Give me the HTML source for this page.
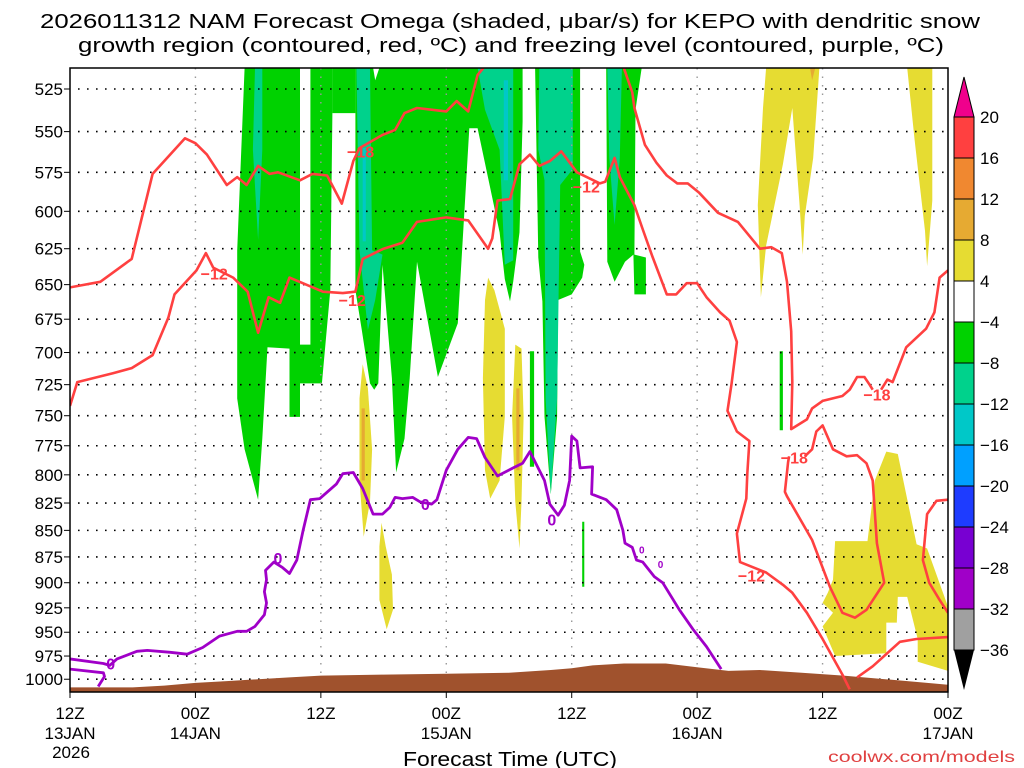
<!DOCTYPE html>
<html><head><meta charset="utf-8"><title>NAM Forecast Omega KEPO</title>
<style>html,body{margin:0;padding:0;background:#fff;}svg{display:block;font-family:"Liberation Sans",sans-serif;}</style>
</head><body>
<svg id="chart" width="1024" height="768" viewBox="0 0 1024 768" xmlns="http://www.w3.org/2000/svg">
<defs><clipPath id="plotclip"><rect x="70" y="68" width="878" height="624"/></clipPath></defs>
<text x="510" y="28" text-anchor="middle" font-size="20" textLength="940" lengthAdjust="spacingAndGlyphs">2026011312 NAM Forecast Omega (shaded, μbar/s) for KEPO with dendritic snow</text>
<text x="511" y="52" text-anchor="middle" font-size="20" textLength="866" lengthAdjust="spacingAndGlyphs">growth region (contoured, red, ºC) and freezing level (contoured, purple, ºC)</text>
<g id="shade" clip-path="url(#plotclip)"></g>
<g id="grid"></g>
<g id="terrain" clip-path="url(#plotclip)"></g>
<g id="contours" clip-path="url(#plotclip)"></g>
<rect x="70" y="68" width="878" height="624" fill="none" stroke="#000" stroke-width="1.5"/>
<g id="yaxis"></g>
<g id="xaxis"></g>
<text x="510" y="766" text-anchor="middle" font-size="20" textLength="214" lengthAdjust="spacingAndGlyphs">Forecast Time (UTC)</text>
<text x="1015" y="762" text-anchor="end" font-size="16" fill="#e04040" textLength="187" lengthAdjust="spacingAndGlyphs">coolwx.com/models</text>
<g id="colorbar"></g>
</svg>
<script>
const NS='http://www.w3.org/2000/svg';
// ---- data ----
const pressureTicks=[525,550,575,600,625,650,675,700,725,750,775,800,825,850,875,900,925,950,975,1000];
const timeTickHours=[0,12,24,36,48,60,72,84];
const timeTickLine1=['12Z','00Z','12Z','00Z','12Z','00Z','12Z','00Z'];
const timeTickLine2=['13JAN','14JAN','','15JAN','','16JAN','','17JAN'];
const colorbarLevels=[20,16,12,8,4,-4,-8,-12,-16,-20,-24,-28,-32,-36];
const colorbarColors=['#ff4040','#f08830','#e6aa32','#e6dc32','#ffffff','#00d200','#00d28c','#00c8c8','#00a0ff','#1e3cff','#7800d2','#a000c8','#a0a0a0'];
const terrainHours=[0,6,9,12,15,18,21,24,30,36,42,46,48,50,53,57,60,63,66,70,74,78,82,84];
const terrainPres=[1009,1009,1007,1004,1002,1000,998,996,995,994,993,990,988,985,983,983,987,991,990,993,996,1000,1004,1006];
// shading polygons [hour, hPa]
const yellowAreas=[
 [[40.0,645],[40.6,654],[41.6,682],[41.6,751],[41.1,805],[40.2,821],[39.7,796],[39.5,720],[39.7,661]],
 [[28.0,709],[28.5,728],[28.9,778],[28.7,824],[28.1,856],[27.7,805],[27.7,736]],
 [[29.8,843],[30.2,865],[30.8,892],[30.9,927],[30.3,947],[29.6,917],[29.6,865]],
 [[42.6,694],[43.2,697],[43.4,751],[43.2,824],[43.0,867],[42.6,824],[42.3,751]],
 [[66.6,513],[71.7,513],[71.1,566],[70.3,603],[70.1,629],[69.8,596],[69.1,536],[68.2,570],[66.6,623],[66.1,659],[65.8,596],[66.3,536]],
 [[80.1,513],[82.5,513],[82.5,593],[82.0,637],[81.8,613],[80.8,555]],
 [[78.1,780],[79.2,782],[81.0,863],[82.0,867],[84.0,924],[84.0,991],[81.1,981],[81.1,957],[80.1,914],[79.2,914],[79.1,940],[78.1,940],[78.1,972],[73.2,975],[72.0,944],[73.0,930],[72.0,920],[72.5,910],[73.0,897],[73.2,860],[76.3,860],[77.0,805]]
];
const goldAreas=[
 [[27.9,744],[28.2,744],[28.2,805],[27.9,805]],
 [[42.7,728],[43.0,728],[43.0,796],[42.7,796]],
 [[70.8,513],[71.3,513],[71.0,520]]
];
const greenAreas=[
 [[16.7,513],[22.0,513],[22.0,751],[21.0,751],[21.0,697],[18.9,696],[18.4,769],[18.0,822],[16.7,778],[16.0,736],[16.0,626]],
 [[23.0,513],[25.1,513],[25.1,539],[24.9,654],[24.1,724],[22.0,724],[22.0,694],[23.0,694]],
 [[25.1,513],[27.3,513],[27.3,539],[25.1,539]],
 [[27.3,513],[29.0,513],[29.2,520],[29.6,513],[43.3,513],[43.3,544],[43.0,614],[42.4,648],[42.1,662],[41.6,646],[41.1,614],[39.0,548],[38.2,548],[37.1,678],[35.2,719],[33.2,634],[32.5,720],[32.0,769],[31.2,798],[30.8,720],[29.9,636],[29.5,724],[29.1,729],[28.7,724],[27.9,682],[27.3,654]],
 [[44.5,513],[48.8,513],[48.8,627],[49.2,636],[49.0,645],[48.0,657],[46.7,661],[46.6,751],[46.0,817],[45.4,751],[45.2,662],[44.8,631]],
 [[51.3,513],[54.7,513],[54.1,537],[54.0,629],[55.1,631],[55.1,657],[54.0,657],[53.9,629],[53.1,634],[52.1,648],[51.4,634]],
 [[44.0,699],[44.4,699],[44.4,793],[44.0,793]],
 [[49.0,842],[49.2,842],[49.2,904],[49.0,904]],
 [[67.9,699],[68.2,699],[68.2,762],[67.9,762]]
];
const tealAreas=[
 [[17.7,513],[18.4,513],[18.4,561],[18.0,619],[17.5,561]],
 [[27.4,513],[28.7,513],[28.9,626],[29.9,629],[29.2,661],[28.5,683],[27.7,626]],
 [[39.0,513],[42.4,513],[42.4,633],[41.6,636],[41.1,561],[39.7,537]],
 [[44.9,513],[48.1,513],[48.1,573],[46.9,583],[46.6,736],[46.0,817],[45.5,736],[45.4,580],[44.8,561]],
 [[51.4,513],[52.8,513],[52.6,566],[52.1,609],[51.6,566]]
];
const cyanAreas=[
 [[28.0,560],[28.3,560],[28.3,620],[28.0,620]],
 [[41.5,520],[41.9,520],[41.9,580],[41.5,580]]
];
// red contours (DGZ -12/-18)
const redLineA=[[0,742],[0.7,723],[4.1,716],[5.9,712],[7.9,702],[9.4,674],[10.0,657],[12.1,640],[13.0,628],[13.7,638],[15.6,645],[17.0,655],[18.0,685],[19.0,659],[20.1,663],[21.0,645],[24.2,655],[26.1,656],[27.3,655],[28.0,632],[30.0,625],[31.8,621],[33.2,607],[36.0,604],[38.1,606],[40.0,625],[40.4,618],[40.9,593],[42.1,592],[43.0,570],[44.0,564],[44.9,571],[45.9,568],[47.0,562],[48.5,575],[50.7,582],[51.2,581],[52.1,566],[52.6,578],[54.0,596],[54.8,612],[55.7,630],[57.1,657],[58.0,657],[59.0,649],[60.0,649],[60.9,659],[62.2,670],[63.1,676],[63.8,692],[63.3,724],[62.9,746],[63.8,763],[65.0,771],[64.8,799],[64.7,821],[63.8,853],[64.1,880],[66.6,890],[68.2,902],[69.1,910],[70.5,930],[72.0,957],[73.9,995],[74.6,1011]];
const redLineB1=[[0,652],[2.9,648],[5.9,632],[7.9,576],[11.0,554],[12.0,557],[13.1,564],[15.0,583],[16.0,578],[16.9,583],[18.0,571],[19.1,576],[19.9,575],[22.0,580],[23.2,576],[24.6,577],[26.0,595],[27.1,568],[27.7,560],[29.9,552],[31.1,549],[32.0,539],[33.2,536],[36.0,538],[37.0,532],[38.1,538],[39.0,517],[40.0,510],[41.1,511]];
const redLineB2=[[52.8,510],[53.8,527],[54.0,536],[55.0,558],[56.1,569],[57.1,577],[58.1,582],[59.1,582],[60.2,588],[62.0,601],[63.9,607],[66.0,625],[67.1,624],[68.1,628],[68.6,648],[69.0,684],[69.1,723],[69.0,761],[70.5,753],[71.0,744],[72.0,738],[73.9,734],[74.6,729],[75.3,719],[76.0,719],[76.5,725],[76.8,729]];
const redLineB3=[[77.6,729],[78.2,721],[78.7,723],[80.0,696],[81.9,682],[82.7,670],[83.2,645],[84.0,640]];
const redLoopC=[[68.8,784],[68.7,789],[68.4,815],[68.6,819],[71.0,859],[72.7,904],[73.9,930],[75.1,935],[76.2,927],[77.9,900],[77.2,862],[76.8,805],[76.2,790],[75.3,783],[74.3,784],[73.0,778],[72.0,758],[71.4,763],[71.0,778],[70.3,784]];
const redLineD=[[75.3,998],[76.8,986],[79.4,960],[81.0,957],[84.0,955]];
const redLineE=[[84.0,822],[82.9,823],[82.0,835],[81.6,878],[82.2,900],[83.2,917],[84.0,930]];
const redLabelHours=[13.8,27.0,49.4,65.2,27.8,69.3,77.2];
const redLabelPres=[642,661,584,893,562,785,733];
const redLabelText=['-12','-12','-12','-12','-18','-18','-18'];
// purple freezing level
const purpleLine1=[[0,978],[3.2,983],[3.8,985],[4.5,978],[6.4,970],[7.4,969],[9.6,971],[11.2,973],[12.7,966],[14.3,954],[16.0,949],[16.9,949],[17.7,944],[18.6,932],[18.8,920],[18.6,909],[18.8,897],[18.7,888],[19.5,880],[20.3,885],[21.0,891],[21.7,878],[22.3,850],[23.0,822],[23.9,821],[25.5,808],[26.1,799],[27.1,798],[28.0,812],[29.0,835],[29.9,835],[30.6,829],[31.1,820],[31.8,821],[32.8,820],[33.5,824],[34.6,826],[35.1,822],[36.0,796],[37.1,778],[38.1,768],[38.9,769],[39.7,785],[40.9,801],[42.4,794],[43.3,790],[44.0,780],[44.9,796],[45.4,805],[45.9,826],[46.7,836],[47.3,827],[47.8,805],[48.0,767],[48.5,771],[48.8,794],[50.0,793],[49.9,817],[51.3,822],[52.3,831],[52.9,850],[53.1,862],[53.8,866],[54.2,878],[54.8,880],[55.9,894],[56.7,900],[58.3,927],[59.6,947],[60.9,965],[62.3,989]];
const purpleLine2=[[0,989],[3.2,993],[3.3,997],[2.7,1008]];
const purpleLabelHours=[3.9,19.9,34.0,46.1,54.7,56.5];
const purpleLabelPres=[983,876,826,840,866,880];
const purpleLabelText=['0','0','0','0','0','0'];
// ---- scales ----
function xOf(h){return 70+h*(878/84);}
function yOf(p){return 89+916*Math.log(p/525);}
function pts(arr){return arr.map(d=>xOf(d[0]).toFixed(1)+','+yOf(d[1]).toFixed(1)).join(' ');}
function mk(tag,attrs,parent){const e=document.createElementNS(NS,tag);for(const k in attrs)e.setAttribute(k,attrs[k]);parent.appendChild(e);return e;}
const shade=document.getElementById('shade');
function drawAreas(list,color,name){list.forEach(a=>{const e=mk('polygon',{points:pts(a),fill:color},shade);

});}
drawAreas(yellowAreas,'#e6dc32','omega-4-to-8-area');
drawAreas(goldAreas,'#e6aa32','omega-8-to-12-area');
drawAreas(greenAreas,'#00d200','omega-minus4-to-minus8-area');
drawAreas(tealAreas,'#00d28c','omega-minus8-to-minus12-area');
drawAreas(cyanAreas,'#00c8c8','omega-minus12-to-minus16-area');
// grid
const grid=document.getElementById('grid');
pressureTicks.forEach(p=>{const e=mk('line',{x1:78,x2:948,y1:yOf(p),y2:yOf(p),stroke:'#000','stroke-width':1.6,'stroke-dasharray':'1.6,7.4'},grid);

});
timeTickHours.forEach(h=>{if(h===0||h===84)return;const e=mk('line',{x1:xOf(h),x2:xOf(h),y1:68,y2:692,stroke:'#999','stroke-width':1.4,'stroke-dasharray':'1.5,7'},grid);

});
// terrain
const terr=document.getElementById('terrain');
const tp=terrainHours.map((h,i)=>[h,terrainPres[i]]);
const tpoly=mk('polygon',{points:xOf(0)+',700 '+pts(tp)+' '+xOf(84)+',700',fill:'#a0522d'},terr);


// contours
const cont=document.getElementById('contours');
[redLineA,redLineB1,redLineB2,redLineB3,redLoopC,redLineD,redLineE].forEach(l=>{const e=mk('polyline',{points:pts(l),fill:'none',stroke:'#ff4040','stroke-width':2.6,'stroke-linejoin':'round'},cont);

});
[purpleLine1,purpleLine2].forEach(l=>{const e=mk('polyline',{points:pts(l),fill:'none',stroke:'#a000c8','stroke-width':2.8,'stroke-linejoin':'round'},cont);

});
redLabelText.forEach((t,i)=>{const e=mk('text',{x:xOf(redLabelHours[i]),y:yOf(redLabelPres[i])+6,'text-anchor':'middle','font-size':16,'font-weight':'bold',fill:'#ff4040'},cont);e.textContent=t.replace('-','\u2212');

});
purpleLabelText.forEach((t,i)=>{const small=i>=4;const e=mk('text',{x:xOf(purpleLabelHours[i]),y:yOf(purpleLabelPres[i])+6,'text-anchor':'middle','font-size':small?10:16,'font-weight':'bold',fill:'#a000c8'},cont);e.textContent=t;

});
// y axis
const ya=document.getElementById('yaxis');
pressureTicks.forEach(p=>{const e=mk('text',{x:63,y:yOf(p)+6,'text-anchor':'end','font-size':17},ya);e.textContent=p;


mk('line',{x1:64,x2:70,y1:yOf(p),y2:yOf(p),stroke:'#000','stroke-width':1},ya);});
// x axis
const xa=document.getElementById('xaxis');
timeTickHours.forEach((h,i)=>{const x=xOf(h);
mk('line',{x1:x,x2:x,y1:692,y2:698,stroke:'#000','stroke-width':1},xa);
const a=mk('text',{x:x,y:719,'text-anchor':'middle','font-size':17},xa);a.textContent=timeTickLine1[i];


if(timeTickLine2[i]){const b=mk('text',{x:x,y:739,'text-anchor':'middle','font-size':17},xa);b.textContent=timeTickLine2[i];

}});
const yr=mk('text',{x:71,y:758,'text-anchor':'middle','font-size':17},xa);yr.textContent='2026';


// colorbar
const cb=document.getElementById('colorbar');
const cbX=954,cbW=20,cbTop=117,cbStep=41;
const up=mk('polygon',{points:`${cbX},${cbTop} ${cbX+cbW},${cbTop} ${cbX+cbW/2},${cbTop-40}`,fill:'#f0008c',stroke:'#000','stroke-width':1},cb);


colorbarColors.forEach((c,i)=>{const e=mk('rect',{x:cbX,y:cbTop+i*cbStep,width:cbW,height:cbStep,fill:c,stroke:'#000','stroke-width':1},cb);

});
const bot=cbTop+colorbarColors.length*cbStep;
const dn=mk('polygon',{points:`${cbX},${bot} ${cbX+cbW},${bot} ${cbX+cbW/2},${bot+40}`,fill:'#000'},cb);


colorbarLevels.forEach((v,i)=>{const e=mk('text',{x:980,y:cbTop+i*cbStep+6,'font-size':17},cb);e.textContent=v<0?'\u2212'+(-v):String(v);

});
</script>
</body></html>
